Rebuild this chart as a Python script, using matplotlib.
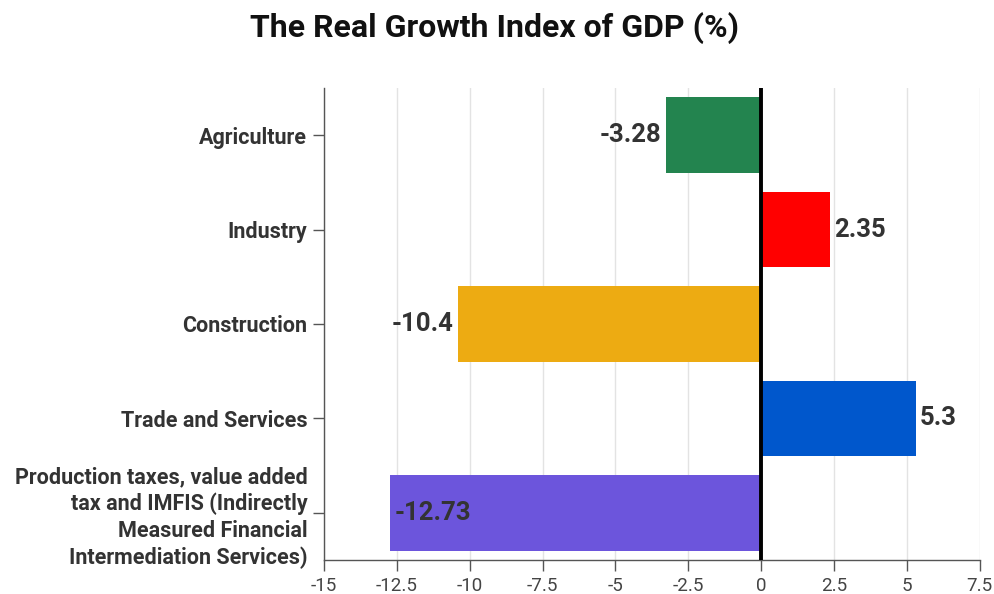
import matplotlib
matplotlib.use("Agg")
import matplotlib.pyplot as plt
from matplotlib import font_manager

categories = [
    "Agriculture",
    "Industry",
    "Construction",
    "Trade and Services",
    "Production taxes, value added\ntax and IMFIS (Indirectly\nMeasured Financial\nIntermediation Services)",
]
values = [-3.28, 2.35, -10.4, 5.3, -12.73]
value_labels = ["-3.28", "2.35", "-10.4", "5.3", "-12.73"]
bar_colors = ["#23844f", "#ff0000", "#edab12", "#0057cc", "#6c55dc"]
x_ticks = [-15, -12.5, -10, -7.5, -5, -2.5, 0, 2.5, 5, 7.5]
x_tick_labels = ["-15", "-12.5", "-10", "-7.5", "-5", "-2.5", "0", "2.5", "5", "7.5"]

plt.rcParams["font.family"] = ["Roboto", "DejaVu Sans"]
text_color = "#333333"

installed = {f.name for f in font_manager.fontManager.ttflist}
narrow = "Liberation Sans Narrow" if "Liberation Sans Narrow" in installed else "Roboto"

fig = plt.figure(figsize=(9.95, 5.94), dpi=100)
ax = fig.add_axes([0.3256, 0.0572, 0.659, 0.7947])

y = list(range(len(categories)))
ax.barh(y, values, height=0.8, color=bar_colors, zorder=2)

ax.set_xlim(-15, 7.5)
ax.set_ylim(len(categories) - 0.5, -0.5)

ax.set_xticks(x_ticks)
ax.set_xticklabels(x_tick_labels, fontsize=13.5, color="#444444", family=[narrow, "DejaVu Sans"])
ax.set_yticks(y)
ax.set_yticklabels(categories, fontsize=15.5, fontweight="bold", color=text_color,
                   linespacing=1.27)

ax.grid(axis="x", color="#e3e3e3", linewidth=1, zorder=0)
ax.set_axisbelow(True)
ax.axvline(0, color="black", linewidth=2.8, zorder=3)

for side in ("top", "right"):
    ax.spines[side].set_visible(False)
for side in ("left", "bottom"):
    ax.spines[side].set_color("#555555")
    ax.spines[side].set_linewidth(1)
ax.tick_params(axis="both", colors="#555555", length=8, width=1)
ax.tick_params(axis="x", labelcolor="#444444", pad=4)
ax.tick_params(axis="y", labelcolor=text_color, pad=4)

for yi, v, lab in zip(y, values, value_labels):
    if lab == "-12.73":
        offset, ha = 3, "left"
    elif v < 0:
        offset, ha = -3, "right"
    else:
        offset, ha = 3, "left"
    ax.annotate(lab, (v, yi), xytext=(offset, 0), textcoords="offset points",
                ha=ha, va="center", fontsize=18.5, fontweight="bold",
                color=text_color, zorder=4)

fig.text(0.497, 0.953, "The Real Growth Index of GDP (%)", ha="center", va="center",
         fontsize=23, fontweight="bold", color="#111111")

fig.savefig("out.png", dpi=100, facecolor="white")
